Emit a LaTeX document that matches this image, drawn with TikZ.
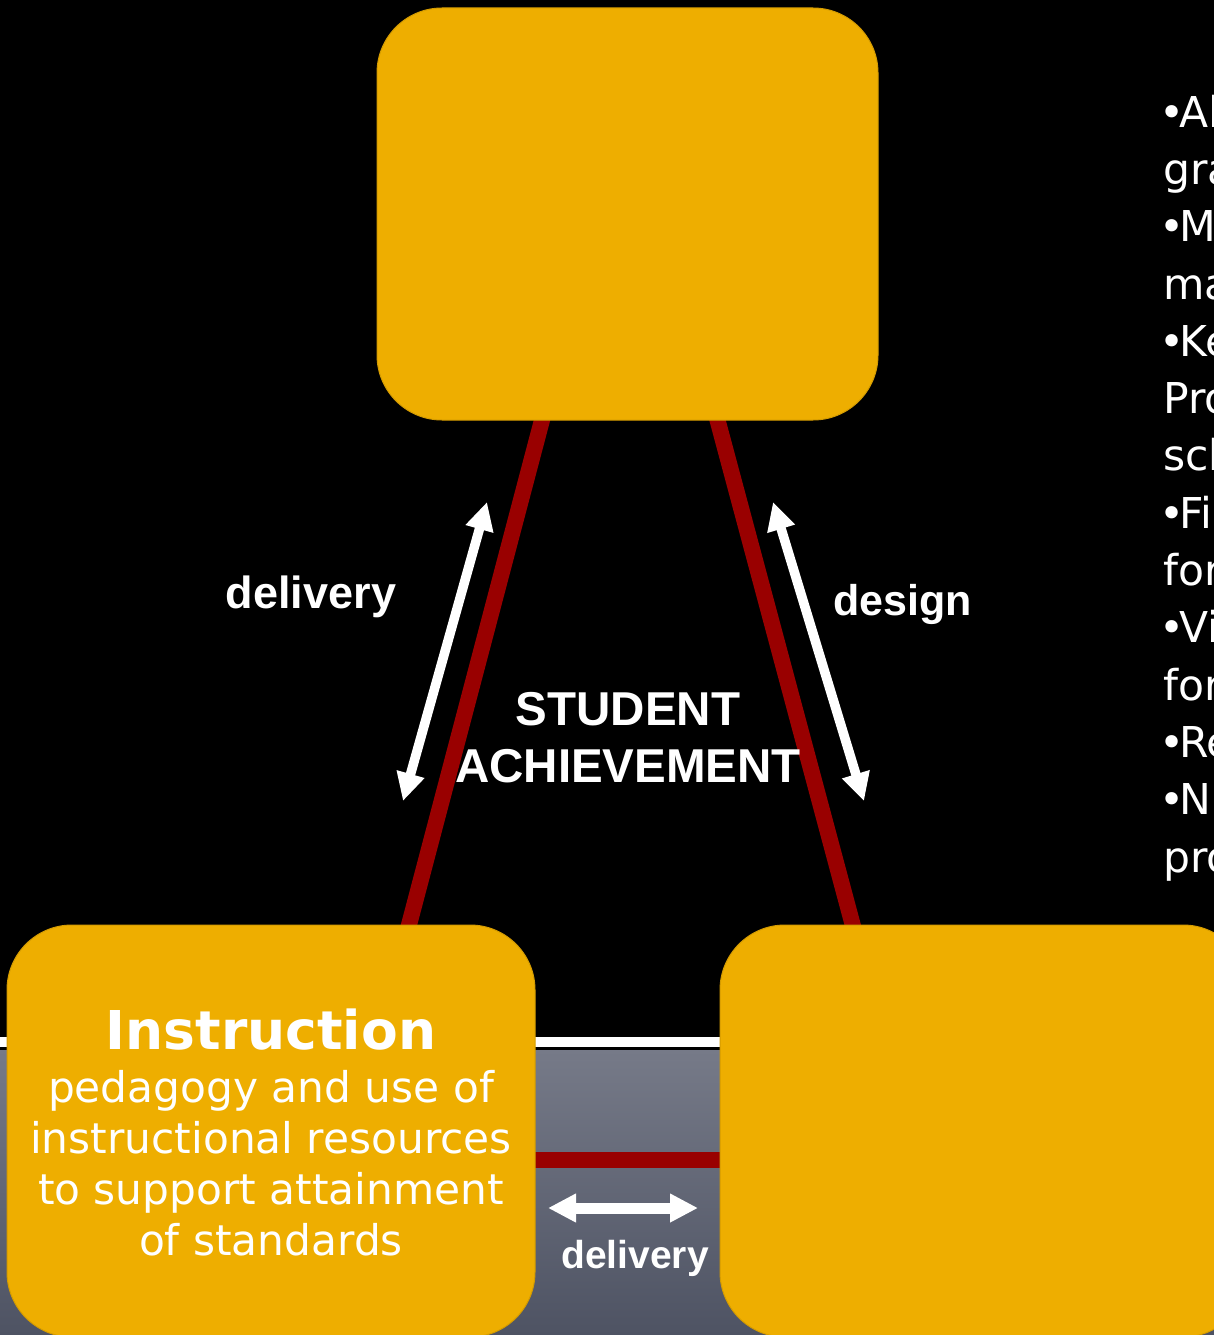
\documentclass[tikz,border=0pt]{standalone}
\usepackage{fontspec}
\setmainfont{DejaVu Sans}
\newfontfamily\arialfont{Liberation Sans}
\usetikzlibrary{arrows.meta}
\definecolor{boxfill}{HTML}{EEAE00}
\definecolor{boxedge}{HTML}{D49B00}
\definecolor{linkred}{HTML}{990000}
\definecolor{bandtop}{HTML}{767A88}
\definecolor{bandmid}{HTML}{686C7A}
\definecolor{bandbot}{HTML}{4E5363}
\newcommand\mybullet{\kern-4pt•\kern-5pt}
\tikzset{
  box/.style={draw=boxedge, line width=1pt, fill=boxfill, rounded corners=65pt,
    inner sep=0pt, outer sep=0pt, minimum height=412pt},
  link/.style={draw=linkred, line width=16pt},
  twoway/.style={draw=white, line width=9.5pt,
    {Triangle[width=27pt,length=28pt]}-{Triangle[width=27pt,length=28pt]}},
  lbl/.style={text=white, inner sep=0pt},
}
\begin{document}
\begin{tikzpicture}[x=1pt,y=-1pt]
\useasboundingbox (0,0) rectangle (1214,1335);
\clip (0,0) rectangle (1214,1335);
% background
\fill[black] (0,0) rectangle (1214,1335);
\fill[white] (0,1037) rectangle (1214,1047);
\shade[top color=bandtop, middle color=bandmid, bottom color=bandbot] (0,1050) rectangle (1214,1335);
% connector end points
\coordinate (l1) at (547.3,400);
\coordinate (l2) at (403.7,945);
\coordinate (r1) at (712.1,400);
\coordinate (r2) at (858.1,945);
\coordinate (h1) at (520,1160);
\coordinate (h2) at (735,1160);
% red links
\draw[link] (l1) -- (l2);
\draw[link] (r1) -- (r2);
\draw[link] (h1) -- (h2);
% boxes
\node[box, minimum width=501pt] (top) at (627.5,214) {};
\node[box, minimum width=528pt] (instr) at (271,1131) {};
\node[box, minimum width=528pt] (right) at (984,1131) {};
% arrows
\coordinate (a1) at (487,502);
\coordinate (a2) at (403,801);
\coordinate (b1) at (773,502);
\coordinate (b2) at (864,801);
\coordinate (c1) at (548,1208);
\coordinate (c2) at (698,1208);
\draw[twoway] (a1) -- (a2);
\draw[twoway] (b1) -- (b2);
\draw[twoway, line width=11pt] (c1) -- (c2);
% labels
\node[lbl, anchor=base, font=\arialfont\bfseries\fontsize{45}{50}\selectfont] (dl) at (311,608) {delivery};
\node[lbl, anchor=base, font=\arialfont\bfseries\fontsize{43}{50}\selectfont] (ds) at (902.5,615) {design};
\node[lbl, anchor=base, align=center, font=\arialfont\bfseries\fontsize{47.5}{57}\selectfont] (sa) at (628,782) {STUDENT\\ACHIEVEMENT};
\node[lbl, anchor=base, font=\arialfont\bfseries\fontsize{39}{45}\selectfont] (db) at (635,1268) {delivery};
\node[lbl, anchor=base, align=center, font=\fontsize{42.3}{51}\selectfont] (it) at (271,1255)
  {{\fontsize{53.5}{53}\selectfont\bfseries Instruction}\\[2pt]pedagogy and use of\\instructional resources\\to support attainment\\of standards};
\node[lbl, anchor=base west, align=left, font=\fontsize{42.5}{57.3}\selectfont] (list) at (1163,872)
  {\mybullet Al\\gra\\\mybullet M\\ma\\\mybullet Ke\\Pro\\sch\\\mybullet Fi\\for\\\mybullet Vi\\for\\\mybullet Re\\\mybullet N\\pro};
\end{tikzpicture}
\end{document}
